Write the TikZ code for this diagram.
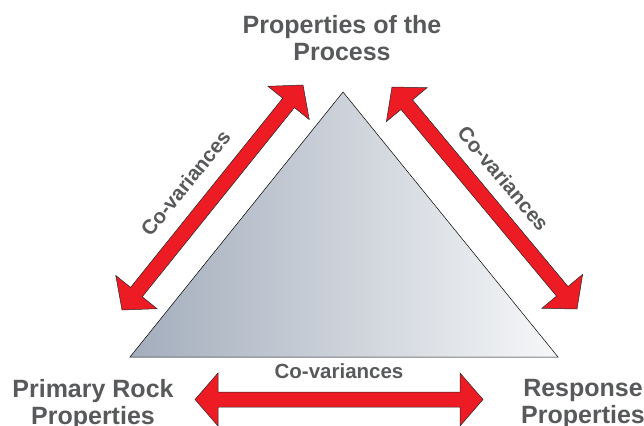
\documentclass[tikz,border=0pt]{standalone}
\usepackage{fontspec}
\setmainfont{Liberation Sans}
\usetikzlibrary{calc}
\definecolor{covred}{RGB}{237,28,36}
\definecolor{labelgray}{RGB}{88,89,91}
\definecolor{trileft}{RGB}{163,173,188}
\definecolor{triright}{RGB}{246,247,248}

\begin{document}
\begin{tikzpicture}[x=1pt,y=-1pt,
    covar/.style={draw=black!85,line width=0.5pt,fill=covred,
      to path={-- ($(\tikztostart)!23pt!(\tikztotarget)!26.5pt!90:(\tikztotarget)$)
               -- ($(\tikztostart)!23pt!(\tikztotarget)!7.5pt!90:(\tikztotarget)$)
               -- ($(\tikztotarget)!23pt!(\tikztostart)!7.5pt!-90:(\tikztostart)$)
               -- ($(\tikztotarget)!23pt!(\tikztostart)!26.5pt!-90:(\tikztostart)$)
               -- (\tikztotarget)
               -- ($(\tikztotarget)!23pt!(\tikztostart)!26.5pt!90:(\tikztostart)$)
               -- ($(\tikztotarget)!23pt!(\tikztostart)!7.5pt!90:(\tikztostart)$)
               -- ($(\tikztostart)!23pt!(\tikztotarget)!7.5pt!-90:(\tikztotarget)$)
               -- ($(\tikztostart)!23pt!(\tikztotarget)!26.5pt!-90:(\tikztotarget)$)
               -- cycle}},
    corner/.style={text=labelgray,align=center,inner sep=0pt,anchor=north,
      font=\fontsize{25}{27}\selectfont\bfseries},
    covlabel/.style={text=labelgray,inner sep=0pt,
      font=\fontsize{20.5}{22}\selectfont\bfseries}]
  \useasboundingbox (0,0) rectangle (644,425);
  % triangle
  \coordinate (apex) at (343,92);
  \coordinate (tl) at (130,357);
  \coordinate (tr) at (558,357);
  \draw[line width=0.5pt,left color=trileft,right color=triright] (tl) -- (apex) -- (tr) -- cycle;
  % corner labels
  \node[corner] (process) at (342,15) {Properties of the\\Process};
  \node[corner] (rock) at (93,379) {Primary Rock\\Properties};
  \node[corner] (response) at (583,379) {Response\\Properties};
  % arrow ends
  \coordinate (lb) at (122,310);
  \coordinate (lt) at (303,85);
  \coordinate (rt) at (392,87);
  \coordinate (rb) at (577,309);
  \coordinate (bl) at (195,399.5);
  \coordinate (br) at (483,399.5);
  \draw[covar] (lb) to (lt);
  \draw[covar] (rt) to (rb);
  \draw[covar] (bl) to (br);
  \node[covlabel,rotate=51] (covleft) at ($(lb)!0.48!(lt)!30pt!90:(lt)$) {Co-variances};
  \node[covlabel,rotate=-50] (covright) at ($(rt)!0.49!(rb)!27pt!90:(rb)$) {Co-variances};
  \node[covlabel] (covbottom) at ($(bl)!0.5!(br)!28pt!90:(br)$) {Co-variances};
\end{tikzpicture}
\end{document}
